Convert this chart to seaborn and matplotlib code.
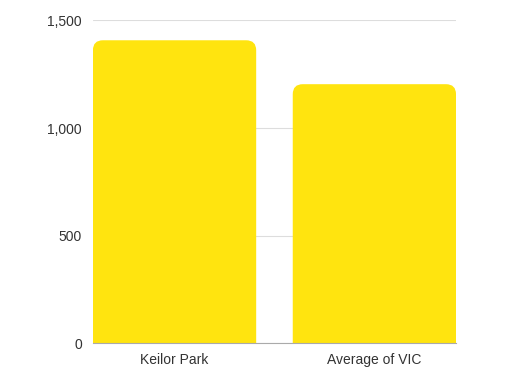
import matplotlib
matplotlib.use("Agg")
import matplotlib.pyplot as plt
import seaborn as sns
import pandas as pd
from matplotlib.patches import FancyBboxPatch
from matplotlib.ticker import FuncFormatter

# Data
categories = ["Keilor Park", "Average of VIC"]
values = [1408, 1204]
yticks = [0, 500, 1000, 1500]

sns.set_style("white")
plt.rcParams['font.family'] = ['Liberation Sans', 'DejaVu Sans']

df = pd.DataFrame({"area": categories, "value": values})

fig = plt.figure(figsize=(5.05, 3.79), dpi=100)
ax = fig.add_axes([0.184, 0.094, 0.719, 0.852])

bar_color = "#FFE40F"
sns.barplot(data=df, x="area", y="value", color=bar_color, width=0.817,
            saturation=1, ax=ax, zorder=2)

ax.set_ylim(0, 1500)
ax.set_xlim(-0.4085, 1.4085)
ax.set_yticks(yticks)
ax.yaxis.set_major_formatter(FuncFormatter(lambda v, p: f"{int(v):,}"))
ax.set_xlabel("")
ax.set_ylabel("")

# grid
ax.grid(axis="y", color="#dddddd", linewidth=0.8, zorder=0)
ax.set_axisbelow(True)
for s in ["top", "right", "left"]:
    ax.spines[s].set_visible(False)
ax.spines["bottom"].set_color("#aaaaaa")
ax.spines["bottom"].set_linewidth(0.8)
ax.spines["bottom"].set_zorder(3)

ax.tick_params(axis="both", length=0, labelsize=10, labelcolor="#333333")
ax.tick_params(axis="y", pad=8)
ax.tick_params(axis="x", pad=7)

# rounded top corners: replace seaborn bars
fig.canvas.draw()
bbox = ax.get_window_extent()
xr = ax.get_xlim()[1] - ax.get_xlim()[0]
yr = ax.get_ylim()[1] - ax.get_ylim()[0]
px_x = bbox.width / xr
px_y = bbox.height / yr
radius_px = 10
r_x = radius_px / px_x
aspect = px_x / px_y
for p in list(ax.patches):
    x, w, h = p.get_x(), p.get_width(), p.get_height()
    p.remove()
    r_y = radius_px / px_y
    fb = FancyBboxPatch((x, -r_y * 2), w, h + r_y * 2,
                        boxstyle=f"round,pad=0,rounding_size={r_x}",
                        mutation_aspect=aspect, facecolor=bar_color,
                        edgecolor="none", zorder=2, clip_on=True)
    ax.add_patch(fb)

fig.savefig("out.png", dpi=100)
